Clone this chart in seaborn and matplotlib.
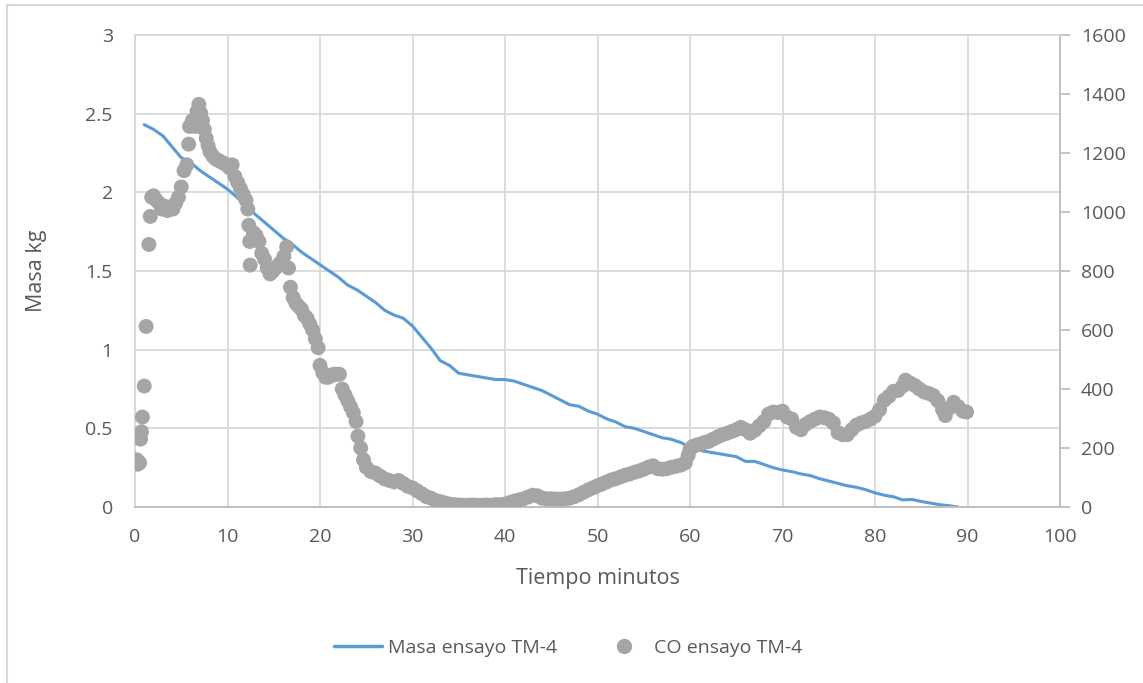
import matplotlib
matplotlib.use("Agg")
import matplotlib.pyplot as plt
import seaborn as sns
from matplotlib.lines import Line2D

# Mass curve (kg) vs time (min)
mass_t = [1, 2, 3, 4, 5, 6, 7, 8, 9, 10, 11, 12, 13, 14, 15, 16, 17, 18, 19, 20,
          21, 22, 23, 24, 25, 26, 27, 28, 29, 30, 31, 32, 33, 34, 35, 36, 37, 38, 39, 40,
          41, 42, 43, 44, 45, 46, 47, 48, 49, 50, 51, 52, 53, 54, 55, 56, 57, 58, 59, 60,
          61, 62, 63, 64, 65, 66, 67, 68, 69, 70, 71, 72, 73, 74, 75, 76, 77, 78, 79, 80,
          81, 82, 83, 84, 85, 86, 87, 88, 89]
mass_kg = [2.43, 2.40, 2.36, 2.29, 2.22, 2.19, 2.14, 2.10, 2.06, 2.02,
           1.97, 1.91, 1.86, 1.81, 1.76, 1.71, 1.67, 1.62, 1.58, 1.54,
           1.50, 1.46, 1.41, 1.38, 1.34, 1.30, 1.25, 1.22, 1.20, 1.15,
           1.08, 1.01, 0.93, 0.90, 0.85, 0.84, 0.83, 0.82, 0.81, 0.81,
           0.80, 0.78, 0.76, 0.74, 0.71, 0.68, 0.65, 0.64, 0.61, 0.59,
           0.56, 0.54, 0.51, 0.50, 0.48, 0.46, 0.44, 0.43, 0.41, 0.38,
           0.36, 0.35, 0.34, 0.33, 0.32, 0.29, 0.29, 0.27, 0.25, 0.235,
           0.225, 0.21, 0.20, 0.18, 0.165, 0.15, 0.135, 0.125, 0.11, 0.09,
           0.075, 0.065, 0.045, 0.048, 0.035, 0.025, 0.015, 0.008, 0.0]

# CO readings vs time (min)
co_t = [0.2, 0.3, 0.5, 0.6, 0.7, 0.8, 1.0, 1.2, 1.5, 1.65, 1.8, 2.0, 2.3, 2.6, 2.9,
        3.2, 3.5, 3.8, 4.1, 4.4, 4.7, 5.0, 5.3, 5.6, 5.8, 5.9, 6.2, 6.5, 6.7, 6.9,
        7.1, 7.3, 7.5, 7.7, 7.9, 8.1, 8.4, 8.7, 9.0, 9.3, 9.6, 9.9, 10.2, 10.5, 10.8,
        11.1, 11.4, 11.7, 12.0, 12.2, 12.3, 12.4, 12.45, 12.8, 13.1, 13.4, 13.7, 14.0, 14.3,
        14.6, 14.9, 15.2, 15.5, 15.8, 16.1, 16.4, 16.6, 16.8, 17.1, 17.4, 17.7, 18.0, 18.3,
        18.6, 18.9, 19.2, 19.5, 19.8, 20.0, 20.3, 20.6, 20.9, 21.2, 21.5, 21.8, 22.1, 22.4,
        22.7, 23.0, 23.3, 23.6, 23.9, 24.1, 24.4, 24.7, 25.0, 25.5, 26.0, 26.5, 27.0, 27.5,
        28.0, 28.5, 29.0, 29.5, 30.0, 30.5, 31.0, 31.5, 32.0, 32.5, 33.0, 33.5, 34.0, 34.5,
        35.0, 35.5, 36.0, 36.5, 37.0, 37.5, 38.0, 38.5, 39.0, 39.5, 40.0, 40.5, 41.0, 41.5,
        42.0, 42.5, 43.0, 43.5, 44.0, 44.5, 45.0, 45.5, 46.0, 46.5, 47.0, 47.5, 48.0, 48.5,
        49.0, 49.5, 50.0, 50.5, 51.0, 51.5, 52.0, 52.5, 53.0, 53.5, 54.0, 54.5, 55.0, 55.5,
        56.0, 56.5, 57.0, 57.5, 58.0, 58.5, 59.0, 59.5, 59.8, 60.0, 60.3, 60.7, 61.0, 61.5,
        62.0, 62.5, 63.0, 63.5, 64.0, 64.5, 65.0, 65.5, 66.0, 66.5, 67.0, 67.5, 68.0, 68.5,
        69.0, 69.5, 70.0, 70.5, 71.0, 71.5, 72.0, 72.5, 73.0, 73.5, 74.0, 74.5, 75.0, 75.5,
        76.0, 76.5, 77.0, 77.5, 78.0, 78.5, 79.0, 79.5, 80.0, 80.5, 81.0, 81.5, 82.0, 82.5,
        83.0, 83.3, 83.8, 84.3, 84.8, 85.3, 85.8, 86.3, 86.8, 87.3, 87.6, 88.0, 88.5, 89.0,
        89.5, 89.9]
co_ppm = [160, 145, 150, 230, 255, 305, 410, 612, 890, 985, 1050, 1055, 1040, 1030, 1010,
          1020, 1005, 1015, 1010, 1030, 1050, 1085, 1140, 1160, 1230, 1290, 1310, 1290, 1340, 1365,
          1335, 1310, 1280, 1250, 1225, 1205, 1190, 1180, 1175, 1170, 1165, 1160, 1150, 1160, 1120,
          1100, 1080, 1060, 1040, 1010, 955, 900, 820, 930, 920, 900, 860, 840, 810,
          790, 800, 810, 820, 830, 850, 882, 810, 745, 710, 690, 680, 670, 650,
          640, 620, 600, 570, 540, 480, 455, 440, 440, 445, 450, 450, 450, 400,
          380, 360, 340, 320, 290, 240, 200, 160, 135, 120, 115, 105, 95, 90,
          85, 90, 80, 70, 65, 55, 45, 35, 30, 22, 18, 14, 10, 8,
          7, 6, 6, 7, 6, 6, 7, 6, 8, 8, 10, 15, 20, 24,
          28, 34, 40, 38, 30, 28, 28, 27, 27, 28, 30, 35, 42, 50,
          58, 65, 72, 78, 85, 92, 96, 102, 108, 112, 118, 122, 128, 135,
          140, 130, 128, 130, 135, 138, 142, 150, 175, 195, 205, 210, 212, 218,
          222, 230, 238, 245, 250, 256, 262, 270, 262, 250, 260, 275, 290, 315,
          322, 320, 325, 305, 298, 270, 262, 280, 290, 298, 305, 303, 298, 285,
          252, 245, 245, 262, 278, 285, 290, 298, 308, 330, 362, 375, 392, 395,
          410, 430, 420, 412, 400, 390, 385, 378, 360, 330, 310, 335, 355, 340,
          325, 322]

x_ticks = [0, 10, 20, 30, 40, 50, 60, 70, 80, 90, 100]
left_ticks = [0, 0.5, 1, 1.5, 2, 2.5, 3]
left_labels = ["0", "0.5", "1", "1.5", "2", "2.5", "3"]
right_ticks = [0, 200, 400, 600, 800, 1000, 1200, 1400, 1600]

BLUE = "#5B9BD5"
GRAY = "#A5A5A5"
GRID = "#D9D9D9"
TXT = "#595959"

sns.set_theme(style="white")
plt.rcParams["font.family"] = ["Open Sans", "DejaVu Sans"]

fig = plt.figure(figsize=(11.43, 6.83), dpi=100)
ax = fig.add_axes([135 / 1143, 1 - 507 / 683, (1060 - 135) / 1143, (507 - 35) / 683])
ax2 = ax.twinx()

sns.lineplot(x=mass_t, y=mass_kg, ax=ax, color=BLUE, linewidth=2.2, legend=False)
sns.scatterplot(x=co_t, y=co_ppm, ax=ax2, s=115, color=GRAY, edgecolor="none",
                linewidth=0, legend=False, zorder=3)

ax.set_xlim(0, 100)
ax.set_ylim(0, 3)
ax2.set_ylim(0, 1600)
ax.set_xticks(x_ticks)
ax.set_yticks(left_ticks)
ax.set_yticklabels(left_labels)
ax2.set_yticks(right_ticks)

ax.grid(True, color=GRID, linewidth=1.3)
ax.set_axisbelow(True)
for a in (ax, ax2):
    for s in a.spines.values():
        s.set_color(GRID)
        s.set_linewidth(1.3)
ax.spines["bottom"].set_color("#BFBFBF")
ax2.spines["bottom"].set_color("#BFBFBF")
ax2.spines["right"].set_color("#BFBFBF")

ax.tick_params(axis="x", length=0, pad=15, labelsize=14, labelcolor=TXT)
ax.tick_params(axis="y", length=0, pad=16, labelsize=14, labelcolor=TXT)
ax2.tick_params(axis="y", length=7, width=1.3, color="#BFBFBF", direction="out",
                pad=8, labelsize=14, labelcolor=TXT)

ax.set_xlabel("Tiempo minutos", fontsize=15.5, color=TXT, labelpad=16)
ax.set_ylabel("Masa kg", fontsize=15.5, color=TXT, labelpad=28)
ax2.set_ylabel("")

handles = [Line2D([0], [0], color=BLUE, lw=2.5),
           Line2D([0], [0], color=GRAY, marker="o", ls="none", markersize=10)]
fig.legend(handles, ["Masa ensayo TM-4", "CO ensayo TM-4"], loc="center",
           bbox_to_anchor=(0.497, 0.051), ncol=2, frameon=False, fontsize=14,
           handlelength=2.5, handletextpad=0.3, columnspacing=2.2, labelcolor=TXT)

# outer chart-area border (left and top edges visible in the crop)
fig.add_artist(Line2D([7 / 1143, 7 / 1143], [0, 1 - 5 / 683], transform=fig.transFigure,
                      color=GRID, lw=1.5))
fig.add_artist(Line2D([7 / 1143, 1], [1 - 5 / 683, 1 - 5 / 683], transform=fig.transFigure,
                      color=GRID, lw=1.5))

fig.savefig("out.png", dpi=100)
